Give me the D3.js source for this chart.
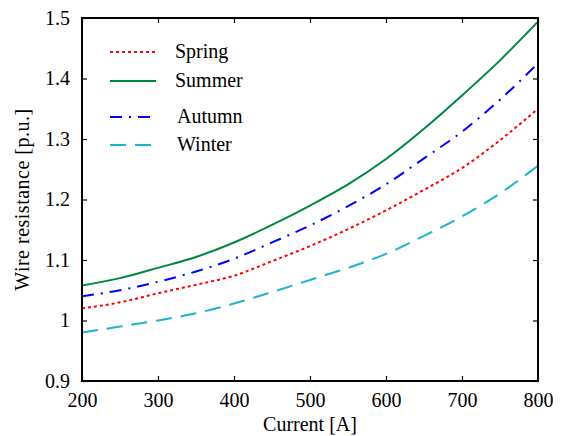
<!DOCTYPE html>
<html>
<head>
<meta charset="utf-8">
<script src="https://cdn.jsdelivr.net/npm/d3@7"></script>
<style>
  body { margin: 0; background: #fff; }
  text { font-family: "Liberation Serif", "Times New Roman", serif; }
</style>
</head>
<body>
<svg width="568" height="436"></svg>
<script>
// currents [A] and wire resistance per season [p.u.]
var current = [200, 250, 300, 350, 400, 450, 500, 550, 600, 650, 700, 750, 800];
var spring = [1.020, 1.030, 1.045, 1.059, 1.074, 1.098, 1.123, 1.151, 1.182, 1.216, 1.252, 1.298, 1.350];
var summer = [1.058, 1.070, 1.087, 1.105, 1.129, 1.158, 1.190, 1.225, 1.267, 1.317, 1.372, 1.430, 1.494];
var autumn = [1.040, 1.050, 1.064, 1.081, 1.102, 1.129, 1.157, 1.189, 1.225, 1.268, 1.312, 1.365, 1.425];
var winter = [0.980, 0.990, 1.000, 1.012, 1.028, 1.047, 1.067, 1.087, 1.110, 1.140, 1.172, 1.210, 1.256];

var xTicks = [200, 300, 400, 500, 600, 700, 800];
var yTicks = [0.9, 1, 1.1, 1.2, 1.3, 1.4, 1.5];

var series = [
    { name: 'Spring', values: spring, color: '#ff0000', dash: '3,3' },
    { name: 'Summer', values: summer, color: '#00873f', dash: null },
    { name: 'Autumn', values: autumn, color: '#0000ff', dash: '12,7,2,7' },
    { name: 'Winter', values: winter, color: '#1db3c9', dash: '16,9' }
];

var svg = d3.select('svg');
var padding = { t: 18, r: 30, b: 55, l: 82 };
var chartWidth = 568 - padding.l - padding.r;
var chartHeight = 436 - padding.t - padding.b;

var xScale = d3.scaleLinear().domain([200, 800]).range([0, chartWidth]);
var yScale = d3.scaleLinear().domain([0.9, 1.5]).range([chartHeight, 0]);

var chartG = svg.append('g')
    .attr('transform', `translate(${padding.l}, ${padding.t})`);

// lines
var line = d3.line()
    .x(function (d, i) { return xScale(current[i]); })
    .y(function (d) { return yScale(d); })
    .curve(d3.curveMonotoneX);

series.forEach(function (s) {
    chartG.append('path')
        .attr('d', line(s.values))
        .attr('fill', 'none')
        .attr('stroke', s.color)
        .attr('stroke-width', 2)
        .attr('stroke-dasharray', s.dash);
});

// axes, ticks pointing inward on all four sides
function styleAxis(g) {
    g.select('.domain').remove();
    g.selectAll('.tick line').attr('stroke', '#000').attr('stroke-width', 1.2);
    g.selectAll('.tick text')
        .attr('font-size', '20px')
        .attr('fill', '#000')
        .style('font-family', '"Liberation Serif", serif');
}

chartG.append('g')
    .attr('transform', `translate(0, ${chartHeight})`)
    .call(d3.axisBottom(xScale).tickValues(xTicks).tickSize(-5).tickPadding(12))
    .call(styleAxis);
chartG.append('g')
    .call(d3.axisTop(xScale).tickValues(xTicks).tickSize(-5).tickFormat(''))
    .call(styleAxis);
chartG.append('g')
    .call(d3.axisLeft(yScale).tickValues(yTicks).tickSize(-5).tickPadding(12).tickFormat(d3.format('~g')))
    .call(styleAxis);
chartG.append('g')
    .attr('transform', `translate(${chartWidth}, 0)`)
    .call(d3.axisRight(yScale).tickValues(yTicks).tickSize(-5).tickFormat(''))
    .call(styleAxis);

// frame
chartG.append('rect')
    .attr('width', chartWidth)
    .attr('height', chartHeight)
    .attr('fill', 'none')
    .attr('stroke', '#000')
    .attr('stroke-width', 2);

// axis titles
svg.append('text')
    .attr('x', padding.l + chartWidth / 2)
    .attr('y', 431)
    .attr('text-anchor', 'middle')
    .attr('font-size', '20px')
    .text('Current [A]');
svg.append('text')
    .attr('transform', `translate(29, ${padding.t + chartHeight / 2}) rotate(-90)`)
    .attr('text-anchor', 'middle')
    .attr('font-size', '20px')
    .attr('letter-spacing', '0.5px')
    .text('Wire resistance [p.u.]');

// legend
var legendY = [52, 81, 117, 145];
var legendTextX = [175, 175, 177, 177];
var legend = svg.append('g');
series.forEach(function (s, i) {
    legend.append('line')
        .attr('x1', 110).attr('x2', 156)
        .attr('y1', legendY[i]).attr('y2', legendY[i])
        .attr('stroke', s.color)
        .attr('stroke-width', 2)
        .attr('stroke-dasharray', s.dash);
    legend.append('text')
        .attr('x', legendTextX[i])
        .attr('y', legendY[i] + 6)
        .attr('font-size', '20px')
        .text(s.name);
});
</script>
</body>
</html>
